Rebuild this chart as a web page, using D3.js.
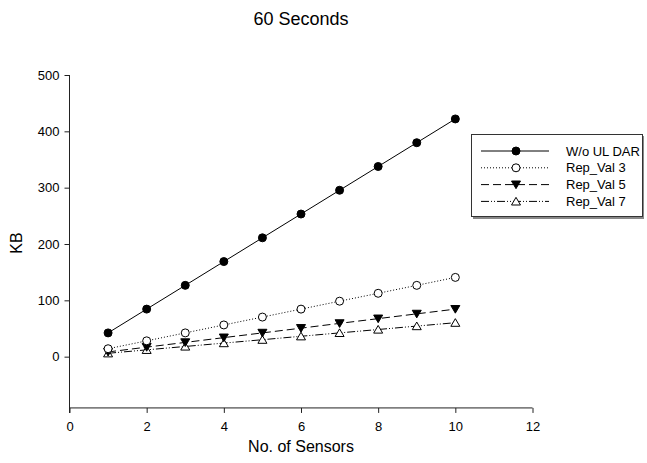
<!DOCTYPE html>
<html><head><meta charset="utf-8">
<script src="https://cdn.jsdelivr.net/npm/d3@7"></script>
<style>body{margin:0;background:#fff}svg{display:block}text{font-family:"Liberation Sans",Arial,sans-serif;fill:#000}</style>
</head><body>
<svg id="c" width="647" height="463"></svg>
<script>
const sensors = [1,2,3,4,5,6,7,8,9,10];
const woULDAR = [42.2,84.4,126.6,168.8,211,253.2,295.4,337.6,379.8,422];
const repVal3 = [14.1,28.1,42.2,56.3,70.3,84.4,98.5,112.5,126.6,140.7];
const repVal5 = [8.4,16.9,25.3,33.8,42.2,50.6,59.1,67.5,76,84.4];
const repVal7 = [6,12.1,18.1,24.1,30.1,36.2,42.2,48.2,54.3,60.3];
const seriesNames = ["W/o UL DAR","Rep_Val 3","Rep_Val 5","Rep_Val 7"];
const xTicks = [0,2,4,6,8,10,12];
const yTicks = [0,100,200,300,400,500];

const svg = d3.select("#c");
const x = d3.scaleLinear().domain([0,12]).range([69.5,532.5]);
const y = d3.scaleLinear().domain([-100,500]).range([413,75]);

const series = [
  {name:seriesNames[0], vals:woULDAR, dash:null, marker:"circle", fill:"#000"},
  {name:seriesNames[1], vals:repVal3, dash:"1,2", marker:"circle", fill:"#fff"},
  {name:seriesNames[2], vals:repVal5, dash:"8,4", marker:"tridown", fill:"#000"},
  {name:seriesNames[3], vals:repVal7, dash:"8,2,1,2,1,2", marker:"triup", fill:"#fff"}
];

// Axes
const yAxis = svg.append("g").attr("transform","translate(69.5,0)")
  .call(d3.axisLeft(y).tickValues(yTicks).tickSize(5).tickPadding(5));
const xAxis = svg.append("g").attr("transform",`translate(0,${y(-91)})`)
  .call(d3.axisBottom(x).tickValues(xTicks).tickSize(5).tickPadding(9));
[yAxis,xAxis].forEach(a=>{
  a.select(".domain").remove();
  a.selectAll("line").attr("stroke","#222");
  a.selectAll("text").style("font-size","13px").attr("fill","#000");
});
svg.append("line").attr("x1",69.5).attr("x2",69.5).attr("y1",y(500)).attr("y2",y(-100)).attr("stroke","#222");
svg.append("line").attr("x1",69.5).attr("x2",x(12)).attr("y1",y(-91)).attr("y2",y(-91)).attr("stroke","#222");

function drawMarker(g, m, cx, cy, fill){
  if(m==="circle"){
    g.append("circle").attr("cx",cx).attr("cy",cy).attr("r",4).attr("fill",fill).attr("stroke","#000").attr("stroke-width",1);
  } else {
    const s = 4.5;
    const pts = m==="tridown" ? [[cx-s,cy-s*0.8],[cx+s,cy-s*0.8],[cx,cy+s*0.9]] : [[cx-s,cy+s*0.8],[cx+s,cy+s*0.8],[cx,cy-s*0.9]];
    g.append("polygon").attr("points",pts.map(p=>p.join(",")).join(" ")).attr("fill",fill).attr("stroke","#000").attr("stroke-width",1);
  }
}

const line = d3.line().x((d,i)=>x(sensors[i])).y(d=>y(d));
series.slice().reverse().forEach(s=>{
  const g = svg.append("g");
  g.append("path").attr("d",line(s.vals)).attr("fill","none").attr("stroke","#000").attr("stroke-width",1)
    .attr("stroke-dasharray",s.dash);
  s.vals.forEach((v,i)=>drawMarker(g,s.marker,x(sensors[i]),y(v),s.fill));
});

// Legend
const lg = svg.append("g");
lg.append("rect").attr("x",473).attr("y",136).attr("width",171).attr("height",83).attr("fill","#888");
lg.append("rect").attr("x",471.5).attr("y",134.5).attr("width",171).attr("height",82).attr("fill","#fff").attr("stroke","#333");
series.forEach((s,i)=>{
  const cy = 151 + i*16.8;
  lg.append("line").attr("x1",481).attr("x2",549).attr("y1",cy).attr("y2",cy).attr("stroke","#000").attr("stroke-dasharray",s.dash);
  drawMarker(lg,s.marker,516,cy,s.fill);
  lg.append("text").attr("x",566).attr("y",cy+4.5).style("font-size","13px").text(s.name);
});

// Titles
svg.append("text").attr("x",301).attr("y",25).attr("text-anchor","middle").style("font-size","18px").text("60 Seconds");
svg.append("text").attr("x",301).attr("y",452).attr("text-anchor","middle").style("font-size","16px").text("No. of Sensors");
svg.append("text").attr("transform","translate(22,243) rotate(-90)").attr("text-anchor","middle").style("font-size","16px").text("KB");
</script>
</body></html>
